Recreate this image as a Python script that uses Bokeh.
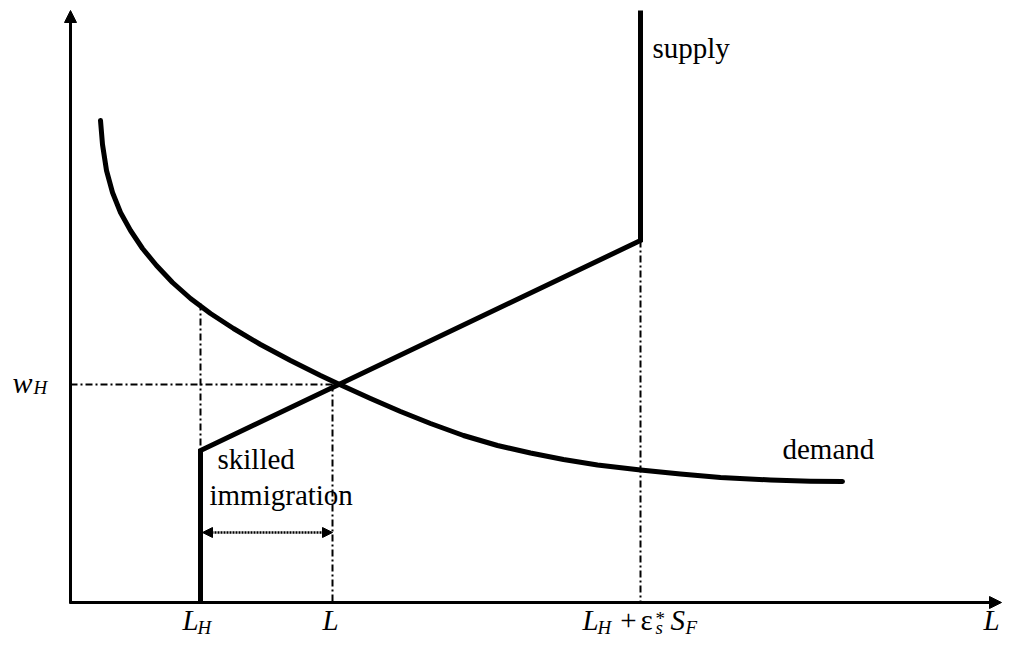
from bokeh.plotting import figure
from bokeh.models import Range1d, Arrow, NormalHead, Label
from bokeh.embed import file_html
from bokeh.resources import INLINE

# ---- chart values (chart units, origin at the axes' corner) ----
L_H = 130          # home skilled labour
L_EQ = 262         # equilibrium employment L
L_MAX = 570        # L_H + eps*_s S_F
W_H = 218          # equilibrium wage w_H
X_AXIS_END = 931
Y_AXIS_END = 592

SUPPLY_X = [L_H, L_H, L_MAX, L_MAX]
SUPPLY_Y = [0, 152, 362, 592]

DEMAND_X = [30, 32, 36, 42, 50, 60, 72, 86, 102, 120, 140, 163, 190, 220, 250,
            267, 300, 330, 360, 393, 427, 460, 493, 527, 570, 610, 650, 700, 740, 772]
DEMAND_Y = [482, 458, 432, 410, 390, 372, 354, 337, 320, 304, 289, 274, 258, 242, 227,
            219, 204, 191, 179, 167, 157, 149.5, 143, 137.5, 132.5, 128.5, 125, 122.5, 121.3, 121]

FONT = "Liberation Serif, Times New Roman, serif"

W, H = 1003, 642
p = figure(width=W, height=H, x_range=Range1d(-70, W - 70), y_range=Range1d(602 - H, 602),
           output_backend="svg", toolbar_location=None, min_border=0,
           min_border_left=0, min_border_right=0, min_border_top=0, min_border_bottom=0)
p.xaxis.visible = False
p.yaxis.visible = False
p.grid.visible = False
p.outline_line_color = None
p.background_fill_color = "white"
p.border_fill_color = "white"


def head(size):
    return NormalHead(size=size, fill_color="black", line_color="black", line_width=1)


# axes with arrow heads
p.add_layout(Arrow(end=head(12), x_start=0, y_start=-1, x_end=0, y_end=Y_AXIS_END,
                   line_width=3, line_color="black"))
p.add_layout(Arrow(end=head(12), x_start=-1, y_start=0, x_end=X_AXIS_END, y_end=0,
                   line_width=3, line_color="black"))

# guide lines (dash-dot)
DASH = "7 3 2 3"
p.line([L_H, L_H], [299, 156], line_width=2, line_color="black", line_dash=DASH)
p.line([0, L_EQ + 4], [W_H, W_H], line_width=2, line_color="black", line_dash=DASH)
p.line([L_EQ, L_EQ], [W_H, 0], line_width=2, line_color="black", line_dash=DASH)
p.line([L_MAX, L_MAX], [SUPPLY_Y[2], 0], line_width=2, line_color="black", line_dash=DASH)

# curves
p.line(DEMAND_X, DEMAND_Y, line_width=5, line_color="black", line_cap="round", line_join="round")
p.line(SUPPLY_X, SUPPLY_Y, line_width=5, line_color="black", line_join="miter")

# skilled immigration arrow
p.add_layout(Arrow(start=head(10), end=head(10),
                   x_start=L_H + 2, y_start=70, x_end=L_EQ, y_end=70,
                   line_width=2.5, line_color="black", line_dash="2 1"))


def txt(x, y, s, size=29, style="normal", align="left"):
    # y is the wanted baseline; the renderer places the text ~0.36 em lower
    p.add_layout(Label(x=x, y=y + 0.36 * size, text=s, text_font=FONT,
                       text_font_size=f"{size}px", text_font_style=style,
                       text_color="black", text_align=align,
                       text_baseline="alphabetic"))


txt(L_MAX + 12, 544, "supply")
txt(712, 143, "demand")
txt(L_H + 17, 133, "skilled")
txt(L_H + 9, 97, "immigration")

# w_H
txt(-58, 209, "w", 30, "italic")
txt(-37, 208, "H", 19, "italic")

# x-axis labels
txt(L_H - 18, -28, "L", 29, "italic")
txt(L_H - 3, -32, "H", 19, "italic")
txt(L_EQ - 10, -28, "L", 29, "italic")
txt(L_MAX - 58, -28, "L", 29, "italic")
txt(L_MAX - 43, -32, "H", 19, "italic")
txt(L_MAX - 12, -28, "+", 29, "normal", "center")
txt(L_MAX, -28, "ε", 29, "normal")
txt(L_MAX + 15, -23, "*", 19, "normal")
txt(L_MAX + 15, -32, "s", 19, "italic")
txt(L_MAX + 30, -28, "S", 29, "italic")
txt(L_MAX + 45, -32, "F", 19, "italic")
txt(X_AXIS_END - 18, -28, "L", 29, "italic")

open("out.html", "w").write(file_html(p, INLINE))
